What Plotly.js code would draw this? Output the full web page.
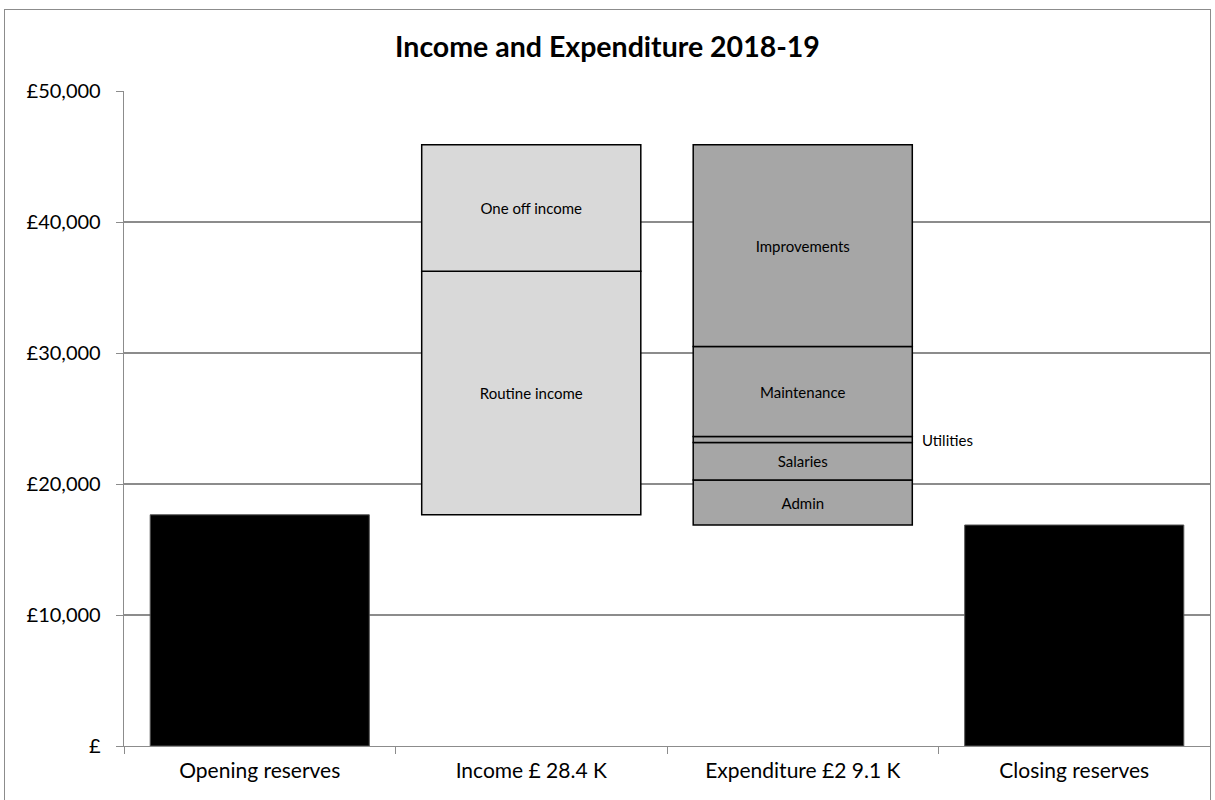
<!DOCTYPE html>
<html>
<head>
<meta charset="utf-8">
<script src="https://cdn.plot.ly/plotly-3.0.1.min.js"></script>
<style>
  html, body { margin: 0; padding: 0; background: #fff; overflow: hidden; }
  #frame { position: absolute; left: 4px; top: 9px; width: 1207px; height: 820px; border: 1.5px solid #8c8c8c; box-sizing: border-box; }
  #chart { position: absolute; left: 0; top: 0; width: 1215px; height: 800px; }
</style>
</head>
<body>
<div id="frame"></div>
<div id="chart"></div>
<script>
// ---- data ----
const categories = ["Opening reserves", "Income £ 28.4 K", "Expenditure £2 9.1 K", "Closing reserves"];
const openingReserves = 17650;
const closingReserves = 16870;
const incomeLabels = ["Routine income", "One off income"];
const incomeValues = [18600, 9650];
const expenditureLabels = ["Admin", "Salaries", "Utilities", "Maintenance", "Improvements"];
const expenditureValues = [3430, 2860, 460, 6880, 15400];
const yTickVals = [0, 10000, 20000, 30000, 40000, 50000];
const yTickText = ["£", "£10,000", "£20,000", "£30,000", "£40,000", "£50,000"];

const FONT = "Lato, 'Open Sans', sans-serif";
const traces = [];

traces.push({
  type: "bar", x: [categories[0]], y: [openingReserves],
  marker: { color: "#000", line: { color: "#555", width: 1 } },
  hoverinfo: "skip", showlegend: false
});
traces.push({
  type: "bar", x: [categories[3]], y: [closingReserves],
  marker: { color: "#000", line: { color: "#555", width: 1 } },
  hoverinfo: "skip", showlegend: false
});

// income stack sits on top of opening reserves
let base = openingReserves;
incomeValues.forEach((v, i) => {
  traces.push({
    type: "bar", x: [categories[1]], y: [v], base: [base],
    marker: { color: "#d9d9d9", line: { color: "#000", width: 1.5 } },
    text: [incomeLabels[i]], textposition: "inside", insidetextanchor: "middle",
    textfont: { family: FONT, size: 15, color: "#000" }, constraintext: "none",
    hoverinfo: "skip", showlegend: false
  });
  base += v;
});

// expenditure stack starts at closing reserves
base = closingReserves;
const annotations = [];
expenditureValues.forEach((v, i) => {
  const isUtil = expenditureLabels[i] === "Utilities";
  traces.push({
    type: "bar", x: [categories[2]], y: [v], base: [base],
    marker: { color: "#a6a6a6", line: { color: "#000", width: 1.5 } },
    text: [isUtil ? "" : expenditureLabels[i]], textposition: "inside", insidetextanchor: "middle",
    textfont: { family: FONT, size: 15, color: "#000" }, constraintext: "none",
    hoverinfo: "skip", showlegend: false
  });
  if (isUtil) {
    annotations.push({
      x: categories[2], y: base + v / 2, xref: "x", yref: "y",
      text: expenditureLabels[i], showarrow: false, xanchor: "left", yanchor: "middle",
      xshift: 117, font: { family: FONT, size: 15, color: "#000" }
    });
  }
  base += v;
});

const layout = {
  width: 1215, height: 800,
  margin: { l: 124, r: 5, t: 91, b: 54 },
  paper_bgcolor: "rgba(0,0,0,0)", plot_bgcolor: "rgba(0,0,0,0)",
  barmode: "overlay", bargap: 0.193,
  title: { text: "<b>Income and Expenditure 2018-19</b>", x: 0.5, xanchor: "center", y: 0.941, yanchor: "middle",
           font: { family: FONT, size: 28.5, color: "#000" } },
  xaxis: {
    type: "category", categoryorder: "array", categoryarray: categories,
    range: [-0.5, 3.5], showline: true, linecolor: "#8c8c8c", linewidth: 1.3,
    ticks: "outside", tickson: "boundaries", ticklen: 7, tickcolor: "#8c8c8c",
    showgrid: false, tickfont: { family: FONT, size: 21, color: "#000" }, ticklabelstandoff: 5,
    fixedrange: true
  },
  yaxis: {
    range: [0, 50000], tickvals: yTickVals, ticktext: yTickText,
    showline: true, linecolor: "#8c8c8c", linewidth: 1.3,
    ticks: "outside", ticklen: 7, tickcolor: "#8c8c8c",
    showgrid: true, gridcolor: "#8c8c8c", gridwidth: 1.2, zeroline: false,
    tickfont: { family: FONT, size: 20, color: "#000" }, ticklabelstandoff: 11,
    fixedrange: true
  },
  annotations: annotations,
  font: { family: FONT }
};

Plotly.newPlot("chart", traces, layout, { staticPlot: true, displayModeBar: false });
</script>
</body>
</html>
